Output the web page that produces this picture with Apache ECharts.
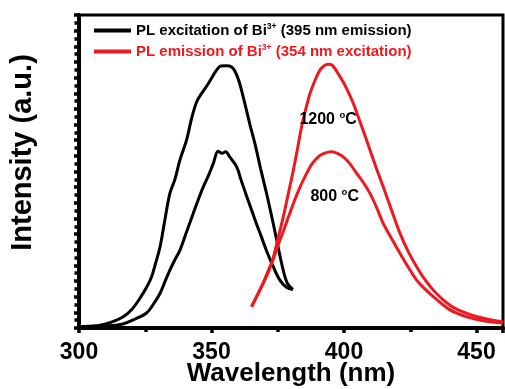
<!DOCTYPE html>
<html><head><meta charset="utf-8">
<script src="https://cdn.jsdelivr.net/npm/echarts@6/dist/echarts.min.js"></script>
<style>html,body{margin:0;padding:0;background:#fff}#c{width:505px;height:389px}</style>
</head><body><div id="c"></div>
<script>
var xTicks = [300, 350, 400, 450];
var excName = 'PL excitation of Bi3+ (395 nm emission)';
var emName = 'PL emission of Bi3+ (354 nm excitation)';
var annot1200 = '1200 °C';
var annot800 = '800 °C';

var exc1200X = [300,304,308,312,316.7,320,323,325.5,327.4,329,330.6,332.5,334.3,336.2,338.1,340.6,342.5,344.4,346.3,348.2,350,351.9,353.5,355.5,357.5,359,360.5,362.5,364.5,366.5,368.5,370.5,372.5,374.5,376.5,378.5,380.7];
var exc1200Y = [0.4,0.6,0.9,1.8,3.6,6,9.5,13,16.4,21,26,35,43,47.5,53.7,60.1,67,72.3,75,77.3,79.8,82.4,83.7,83.8,83.5,81.8,78.5,72,65,58.5,51,44,36.5,28.5,20.5,14.5,12.3];

var exc800X = [300,305,310,316.6,321,325.5,328,330.6,332.5,334.3,336,338.1,340.5,343.1,345,346.9,349,350.7,352.5,354,355.3,357,359.5,361,363.3,365.2,367.1,368.8,370.8,373.3,375.8,378.4,380.7];
var exc800Y = [0.3,0.4,0.6,1.3,2.8,4.8,7.5,11.1,15,18.5,21.5,24.9,30.5,36.6,41,45.1,49,52.6,56.5,55.8,56.3,54.5,51.5,47.7,42,37.5,33,29.2,24.6,19.6,15.3,12.9,12.3];

var em1200X = [365.1,367,369.6,371.5,373.3,375.2,377.1,379,380.9,382.5,384,385.6,387.2,389,390.9,392.5,394,395.5,398.5,401,403.5,406,408.5,411.6,414.8,418,421.1,424.2,427.4,430.5,433.7,436.8,440,443,446.3,449.5,452.6,456,460];
var em1200Y = [6.8,10,14.5,18,22.5,29,35.6,43,50.5,57.5,64.3,70,75,79,82.4,83.8,84.3,84,80.3,76.5,71.8,66,60.1,52.5,45.1,37.5,30.3,24.5,19.6,15.5,12.1,9.5,7.3,5.8,4.7,3.8,3.1,2.5,2.0];

var em800X = [365.1,367,369.6,371.5,373.3,375.8,378,380.9,383.4,385.9,388,390.3,392.5,395.3,397.5,399.7,402.2,404.8,407.3,409.8,412.3,414.8,418,421.1,424.2,427.4,430.5,433.7,436.8,440,443,446.3,449.5,452.6,456,460];
var em800Y = [6.8,10,14.5,18.5,22,28,33,39.8,45,49.4,52.5,54.7,55.8,56.3,55.8,54.7,52.5,49.4,46.5,43,38.5,33.4,28.5,23.9,19.5,15.3,12.5,10,7.8,5.8,4.6,3.6,2.9,2.3,1.9,1.5];

function pairs(xs, ys){ return xs.map(function(x,i){return [x, ys[i]];}); }

var BLACK = '#000000', RED = '#ec1a1f';
var FONT = 'Liberation Sans, Arial, sans-serif';

var chart = echarts.init(document.getElementById('c'), null, {renderer:'canvas'});
function lineSeries(name, xs, ys, color, z){
  return {type:'line', name:name, data:pairs(xs,ys), showSymbol:false, symbol:'none', smooth:0.35,
          lineStyle:{color:color, width:3}, itemStyle:{color:color}, z:z, animation:false};
}
var option = {
  animation:false,
  backgroundColor:'#fff',
  grid:{left:79, top:15, right:2, bottom:61, outerBoundsMode:'none', containLabel:false,
        show:true, borderColor:'#000', borderWidth:3, backgroundColor:'transparent'},
  legend:{
    orient:'vertical', left:89, top:17, itemGap:5, itemWidth:37, itemHeight:4, icon:'rect',
    data:[{name:excName}, {name:emName}],
    formatter:function(n){
      if(n===excName) return '{k|PL excitation of Bi}{ks|3+}{k| (395 nm emission)}';
      return '{r|PL emission of Bi}{rs|3+}{r| (354 nm excitation)}';
    },
    textStyle:{fontFamily:FONT, rich:{
      k:{color:BLACK, fontSize:15, fontWeight:'bold', fontFamily:FONT, lineHeight:17},
      ks:{color:BLACK, fontSize:8.5, fontWeight:'bold', fontFamily:FONT, verticalAlign:'top', lineHeight:17},
      r:{color:RED, fontSize:15, fontWeight:'bold', fontFamily:FONT, lineHeight:17},
      rs:{color:RED, fontSize:8.5, fontWeight:'bold', fontFamily:FONT, verticalAlign:'top', lineHeight:17}
    }}
  },
  xAxis:{
    type:'value', min:300, max:460, interval:50,
    name:'Wavelength (nm)', nameLocation:'middle', nameGap:33, nameMoveOverlap:false,
    nameTextStyle:{fontFamily:FONT, fontSize:26, fontWeight:'bold', color:'#000'},
    axisLine:{show:true, lineStyle:{color:'#000', width:4}},
    axisTick:{show:true, inside:false, length:5, lineStyle:{color:'#000', width:3.5}},
    minorTick:{show:true, splitNumber:2, length:4, lineStyle:{color:'#000', width:3.5}},
    axisLabel:{fontFamily:FONT, fontSize:23, fontWeight:'bold', color:'#000', margin:13,
      formatter:function(v){ return xTicks.indexOf(v)>=0 ? String(v) : ''; }},
    splitLine:{show:false}
  },
  yAxis:{
    type:'value', min:0, max:100, interval:5,
    name:'Intensity (a.u.)', nameLocation:'middle', nameGap:42, nameMoveOverlap:false,
    nameTextStyle:{fontFamily:FONT, fontSize:29, fontWeight:'bold', color:'#000', padding:[0,0,0,38]},
    axisLine:{show:true, lineStyle:{color:'#000', width:4}},
    axisTick:{show:true, inside:false, length:5, lineStyle:{color:'#000', width:3.5}},
    minorTick:{show:true, splitNumber:2, length:4.5, lineStyle:{color:'#000', width:3.5}},
    axisLabel:{show:false},
    splitLine:{show:false}
  },
  series:[
    lineSeries(excName, exc1200X, exc1200Y, BLACK, 3),
    lineSeries(excName, exc800X, exc800Y, BLACK, 3),
    lineSeries(emName, em1200X, em1200Y, RED, 4),
    lineSeries(emName, em800X, em800Y, RED, 4)
  ]
};
chart.setOption(option);

function annot(txt, x, y){
  var p = chart.convertToPixel({gridIndex:0}, [x, y]);
  var parts = txt.split(' °');
  return {type:'text', x:p[0], y:p[1], z:100,
    style:{text:'{a|'+parts[0]+' }{s|o}{a|'+parts[1]+'}', align:'center', verticalAlign:'middle',
      rich:{a:{fontFamily:FONT, fontSize:16, fontWeight:'bold', fill:'#000', lineHeight:19},
            s:{fontFamily:FONT, fontSize:9.5, fontWeight:'bold', fill:'#000', verticalAlign:'top', lineHeight:19}}}};
}
chart.setOption({graphic:[annot(annot1200, 394, 66.5), annot(annot800, 396.5, 42)]});
</script></body></html>
